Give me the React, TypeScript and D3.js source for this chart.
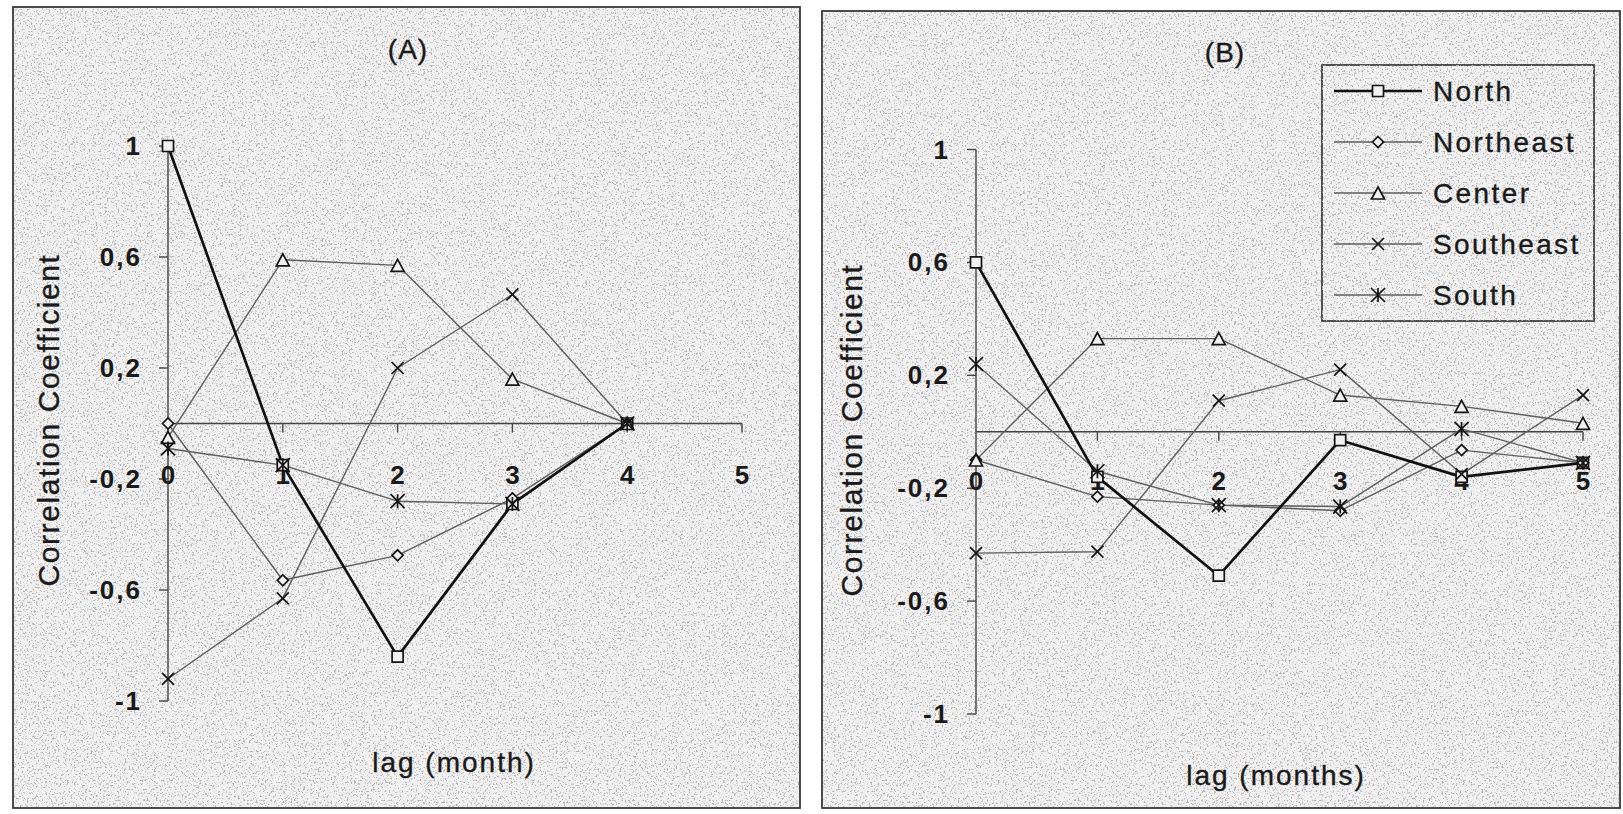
import React from "react";
import * as d3 from "d3";

// ---------- data ----------
const seriesNames = ["North", "Northeast", "Center", "Southeast", "South"];
const lagsA = [0, 1, 2, 3, 4];
const lagsB = [0, 1, 2, 3, 4, 5];

const northA = [1, -0.15, -0.84, -0.29, 0];
const northeastA = [0, -0.565, -0.475, -0.27, 0];
const centerA = [-0.05, 0.59, 0.57, 0.16, 0];
const southeastA = [-0.92, -0.63, 0.2, 0.465, 0];
const southA = [-0.09, -0.15, -0.28, -0.29, 0];

const northB = [0.6, -0.16, -0.51, -0.03, -0.16, -0.11];
const northeastB = [-0.1, -0.23, -0.26, -0.28, -0.065, -0.11];
const centerB = [-0.1, 0.33, 0.33, 0.13, 0.09, 0.03];
const southeastB = [-0.43, -0.425, 0.11, 0.22, -0.15, 0.13];
const southB = [0.24, -0.14, -0.26, -0.265, 0.01, -0.11];

const yTickValues = [1, 0.6, 0.2, -0.2, -0.6, -1];
const yTickLabels = ["1", "0,6", "0,2", "-0,2", "-0,6", "-1"];
const xTickValues = [0, 1, 2, 3, 4, 5];
const xTickLabels = ["0", "1", "2", "3", "4", "5"];

const markerKinds = ["square", "diamond", "triangle", "x", "asterisk"];

const FONT = "'Liberation Sans', Arial, Helvetica, sans-serif";
const PANEL_FILL = "#f1f1f1";

function markerPath(kind: string, cx: number, cy: number): string {
  const p = d3.path();
  if (kind === "square") {
    const h = 5.5;
    p.rect(cx - h, cy - h, 2 * h, 2 * h);
  } else if (kind === "diamond") {
    const h = 5.5;
    p.moveTo(cx, cy - h);
    p.lineTo(cx + h, cy);
    p.lineTo(cx, cy + h);
    p.lineTo(cx - h, cy);
    p.closePath();
  } else if (kind === "triangle") {
    const w = 6.5, hh = 6;
    p.moveTo(cx, cy - hh);
    p.lineTo(cx + w, cy + hh);
    p.lineTo(cx - w, cy + hh);
    p.closePath();
  } else if (kind === "x") {
    const h = 6;
    p.moveTo(cx - h, cy - h);
    p.lineTo(cx + h, cy + h);
    p.moveTo(cx + h, cy - h);
    p.lineTo(cx - h, cy + h);
  } else {
    const h = 7;
    p.moveTo(cx - h, cy - h);
    p.lineTo(cx + h, cy + h);
    p.moveTo(cx + h, cy - h);
    p.lineTo(cx - h, cy + h);
    p.moveTo(cx, cy - h);
    p.lineTo(cx, cy + h);
  }
  return p.toString();
}

function lineStyle(i: number) {
  return i === 0
    ? { stroke: "#111", width: 2.7 }
    : { stroke: "#5e5e5e", width: 1.4 };
}

type PanelProps = {
  frame: [number, number, number, number];
  xRange: [number, number];
  yRange: [number, number];
  lags: number[];
  series: number[][];
  title: string;
  titlePos: [number, number];
  xTitle: string;
  xTitlePos: [number, number];
  yTitlePos: [number, number];
  xLabelBaseline: number;
};

function Panel(props: PanelProps) {
  const { frame, xRange, yRange, lags, series } = props;
  const x = d3.scaleLinear().domain([0, 5]).range(xRange);
  const y = d3.scaleLinear().domain([-1, 1]).range(yRange);
  const line = d3
    .line<number>()
    .x((_, i) => x(lags[i]))
    .y((d) => y(d));
  const [fx, fy, fw, fh] = frame;
  const textStroke = { stroke: "#1a1a1a", strokeWidth: 0.35 };
  return (
    <g>
      <rect x={fx} y={fy} width={fw} height={fh} fill={PANEL_FILL} />
      <rect x={fx} y={fy} width={fw} height={fh} fill="#000" filter="url(#grain)" />
      <rect x={fx} y={fy} width={fw} height={fh} fill="none" stroke="#3a3a3a" strokeWidth={1.8} />
      {/* title */}
      <text x={props.titlePos[0]} y={props.titlePos[1]} fontSize={28} textAnchor="middle" dominantBaseline="central" fill="#1a1a1a" fontFamily={FONT} letterSpacing={1} {...textStroke}>
        {props.title}
      </text>
      {/* y axis */}
      <line x1={x(0)} x2={x(0)} y1={y(1)} y2={y(-1)} stroke="#444" strokeWidth={1.4} />
      {yTickValues.map((v, i) => (
        <g key={"yt" + i}>
          <line x1={x(0) - 9} x2={x(0)} y1={y(v)} y2={y(v)} stroke="#444" strokeWidth={1.4} />
          <text x={x(0) - 26} y={y(v)} textAnchor="end" dominantBaseline="central" fontSize={26} fontWeight="bold" fill="#1a1a1a" fontFamily={FONT} letterSpacing={2}>
            {yTickLabels[i]}
          </text>
        </g>
      ))}
      {/* zero line / x axis */}
      <line x1={x(0)} x2={x(5)} y1={y(0)} y2={y(0)} stroke="#444" strokeWidth={1.4} />
      {xTickValues.map((v, i) => (
        <g key={"xt" + i}>
          {v > 0 && <line x1={x(v)} x2={x(v)} y1={y(0)} y2={y(0) + 9} stroke="#444" strokeWidth={1.4} />}
          <text x={x(v)} y={props.xLabelBaseline} textAnchor="middle" fontSize={26} fontWeight="bold" fill="#1a1a1a" fontFamily={FONT}>
            {xTickLabels[i]}
          </text>
        </g>
      ))}
      {/* axis titles */}
      <text x={props.xTitlePos[0]} y={props.xTitlePos[1]} textAnchor="middle" fontSize={28} fill="#1a1a1a" fontFamily={FONT} letterSpacing={2} {...textStroke}>
        {props.xTitle}
      </text>
      <text
        transform={`translate(${props.yTitlePos[0]},${props.yTitlePos[1]}) rotate(-90)`}
        textAnchor="middle"
        dominantBaseline="central"
        fontSize={30}
        fill="#1a1a1a"
        fontFamily={FONT}
        letterSpacing={1.6}
        {...textStroke}
      >
        Correlation Coefficient
      </text>
      {/* series lines (thin first, North last) */}
      {series
        .map((vals, i) => ({ vals, i }))
        .reverse()
        .map(({ vals, i }) => {
          const st = lineStyle(i);
          return (
            <path key={"l" + i} d={line(vals) || ""} fill="none" stroke={st.stroke} strokeWidth={st.width} strokeLinejoin="round" />
          );
        })}
      {series.map((vals, i) =>
        vals.map((v, j) => (
          <path
            key={"m" + i + "-" + j}
            d={markerPath(markerKinds[i], x(lags[j]), y(v))}
            fill={markerKinds[i] === "x" || markerKinds[i] === "asterisk" ? "none" : PANEL_FILL}
            stroke="#151515"
            strokeWidth={1.7}
          />
        ))
      )}
    </g>
  );
}

function Legend() {
  const left = 1322, top = 65, w = 272, h = 256;
  const rowY = d3.scaleLinear().domain([0, 4]).range([91, 295]);
  return (
    <g>
      <rect x={left} y={top} width={w} height={h} fill={PANEL_FILL} stroke="#2a2a2a" strokeWidth={1.6} />
      <rect x={left} y={top} width={w} height={h} fill="#000" filter="url(#grain)" />
      {seriesNames.map((name, i) => {
        const yy = rowY(i);
        const st = lineStyle(i);
        return (
          <g key={name}>
            <line x1={1334} x2={1422} y1={yy} y2={yy} stroke={st.stroke} strokeWidth={st.width} />
            <path
              d={markerPath(markerKinds[i], 1378, yy)}
              fill={markerKinds[i] === "x" || markerKinds[i] === "asterisk" ? "none" : PANEL_FILL}
              stroke="#151515"
              strokeWidth={1.7}
            />
            <text x={1433} y={yy} dominantBaseline="central" fontSize={28} fill="#1a1a1a" fontFamily={FONT} letterSpacing={2.4} stroke="#1a1a1a" strokeWidth={0.35}>
              {name}
            </text>
          </g>
        );
      })}
    </g>
  );
}

export default function App() {
  return (
    <svg width={1623} height={814} style={{ position: "absolute", left: 0, top: 0, background: "#fff" }}>
      <defs>
        <filter id="grain" x="0" y="0" width="100%" height="100%" filterUnits="objectBoundingBox">
          <feTurbulence type="fractalNoise" baseFrequency="0.55" numOctaves="2" seed="7" result="n" />
          <feColorMatrix
            in="n"
            type="matrix"
            values="0 0 0 0 0.45  0 0 0 0 0.45  0 0 0 0 0.45  6 0 0 0 -3.3"
            result="specks"
          />
          <feComposite in="specks" in2="SourceAlpha" operator="in" />
        </filter>
      </defs>
      <Panel
        frame={[13, 7, 787, 801]}
        xRange={[168, 742]}
        yRange={[701, 146]}
        lags={lagsA}
        series={[northA, northeastA, centerA, southeastA, southA]}
        title="(A)"
        titlePos={[408, 49]}
        xTitle="lag (month)"
        xTitlePos={[454, 772]}
        yTitlePos={[48, 420]}
        xLabelBaseline={484}
      />
      <Panel
        frame={[822, 11, 798, 797]}
        xRange={[976, 1583]}
        yRange={[714, 149.5]}
        lags={lagsB}
        series={[northB, northeastB, centerB, southeastB, southB]}
        title="(B)"
        titlePos={[1225, 52]}
        xTitle="lag (months)"
        xTitlePos={[1276, 785]}
        yTitlePos={[851, 430]}
        xLabelBaseline={490}
      />
      <Legend />
    </svg>
  );
}
